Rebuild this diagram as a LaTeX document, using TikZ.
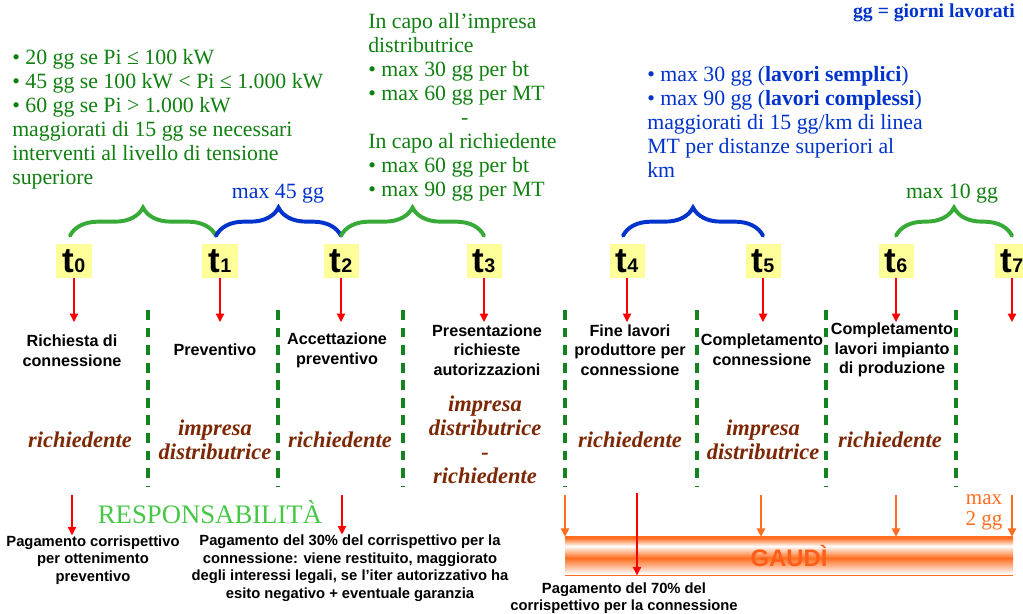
\documentclass[tikz,border=0pt]{standalone}
\usepackage{fontspec}
\setmainfont{Liberation Serif}
\setsansfont{Liberation Sans}
\usetikzlibrary{decorations.pathreplacing,positioning,calc,arrows.meta}
\definecolor{verde}{RGB}{16,128,16}
\definecolor{verdeb}{RGB}{55,170,55}
\definecolor{verdet}{RGB}{20,130,30}
\definecolor{verdechiaro}{RGB}{70,200,70}
\definecolor{blu}{RGB}{0,51,204}
\definecolor{marrone}{RGB}{125,40,5}
\definecolor{giallo}{RGB}{255,255,153}
\definecolor{arancio}{RGB}{255,110,30}

\begin{document}
\begin{tikzpicture}[x=0.025cm, y=-0.025cm,
    testo/.style={inner sep=0pt, align=left, font=\fontsize{15.5}{17}\selectfont},
    tbox/.style={fill=giallo, minimum width=0.875cm, minimum height=0.85cm, inner sep=0pt, font=\sffamily\bfseries},
    evento/.style={inner sep=0pt, align=center, font=\sffamily\bfseries\fontsize{11.5}{14}\selectfont},
    chi/.style={inner sep=0pt, align=center, text=marrone, font=\bfseries\itshape\fontsize{16}{17}\selectfont},
    nota/.style={inner sep=0pt, align=center, font=\sffamily\bfseries\fontsize{10.5}{12.5}\selectfont},
    freccia/.style={red, line width=0.8pt, -{Triangle[width=6pt,length=6pt]}},
    ofreccia/.style={arancio, line width=1.2pt, -{Triangle[width=6pt,length=6pt]}},
    sep/.style={verdet, line width=2.2pt, dash pattern=on 7pt off 5.5pt},
    graffa/.style={line width=2.8pt, line cap=round, decorate, decoration={brace, amplitude=20pt}}]

\clip (0,0) rectangle (1023,613);
\fill[white] (0,0) rectangle (1023,613);

\node[testo, text=blu, font=\bfseries\fontsize{14}{17}\selectfont, anchor=base east] (leg) at (1015,17) {gg = giorni lavorati};

\node[testo, text=verde, anchor=base west] (c01) at (12,184) {%
• 20 gg se Pi ≤ 100 kW\\
• 45 gg se 100 kW < Pi ≤ 1.000 kW\\
• 60 gg se Pi > 1.000 kW\\
maggiorati di 15 gg se necessari\\
interventi al livello di tensione\\
superiore};

\node[testo, text=verde, anchor=base west] (c23) at (368,196) {%
In capo all'impresa\\
distributrice\\
• max 30 gg per bt\\
• max 60 gg per MT\\
\hspace*{66pt}-\\
In capo al richiedente\\
• max 60 gg per bt\\
• max 90 gg per MT};

\node[testo, text=blu, anchor=base west] (c45) at (647,177) {%
• max 30 gg (\textbf{lavori semplici})\\
• max 90 gg (\textbf{lavori complessi})\\
maggiorati di 15 gg/km di linea\\
MT per distanze superiori al\\
km};

\node[testo, text=blu, anchor=base] (m12) at (278,198) {max 45 gg};
\node[testo, text=verde, anchor=base] (m67) at (952,198) {max 10 gg};

\foreach \i/\x in {0/74,1/220,2/341,3/484,4/627,5/763,6/896,7/1012} {
    \node[tbox] (t\i) at (\x,261) {{\fontsize{25}{25}\selectfont t}{\fontsize{14}{14}\selectfont\i}};
    \coordinate (a\i) at (\x,322);
    \draw[freccia] (t\i) -- (a\i);
}

\draw[graffa, verdeb] ($(t0.north)+(-4,-8)$) -- ($(t1.north)+(-4,-8)$);
\draw[graffa, blu] ($(t1.north)+(-4,-8)$) -- ($(t2.north)+(0,-8)$);
\draw[graffa, verdeb] ($(t2.north)+(0,-8)$) -- ($(t3.north)+(0,-8)$);
\draw[graffa, blu] ($(t4.north)+(-4,-8)$) -- ($(t5.north)+(0,-8)$);
\draw[graffa, verdeb] ($(t6.north)+(0,-8)$) -- ($(t7.north)+(0,-8)$);

\foreach \x in {148,278,403,565,697,826,956}
    \draw[sep] (\x,310) -- (\x,486);

\node[evento] (e0) at (72,351) {Richiesta di\\connessione};
\node[evento] (e1) at (215,350) {Preventivo};
\node[evento] (e2) at (337,350) {Accettazione\\preventivo};
\node[evento] (e3) at (487,350) {Presentazione\\richieste\\autorizzazioni};
\node[evento] (e4) at (630,350) {Fine lavori\\produttore per\\connessione};
\node[evento] (e5) at (762,350) {Completamento\\connessione};
\node[evento] (e6) at (892,350) {Completamento\\lavori impianto\\di produzione};

\node[chi] (r0) at (80,440) {richiedente};
\node[chi] (r1) at (215,440) {impresa\\distributrice};
\node[chi] (r2) at (340,440) {richiedente};
\node[chi] (r3) at (485,440) {impresa\\distributrice\\-\\richiedente};
\node[chi] (r4) at (630,440) {richiedente};
\node[chi] (r5) at (763,440) {impresa\\distributrice};
\node[chi] (r6) at (890,440) {richiedente};

\node[inner sep=0pt, text=verdechiaro, font=\fontsize{19}{19}\selectfont] (resp) at (210,512) {RESPONSABILITÀ};

\node[nota] (p0) at (93,560) {Pagamento corrispettivo\\per ottenimento\\preventivo};
\node[nota] (p1) at (350,568) {Pagamento del 30\% del corrispettivo per la\\connessione: viene restituito, maggiorato\\degli interessi legali, se l'iter autorizzativo ha\\esito negativo + eventuale garanzia};
\coordinate (q0) at (72,495);
\coordinate (q1) at (342,495);
\draw[freccia] (q0) -- (q0 |- p0.north);
\draw[freccia] (q1) -- (q1 |- p1.north);

\shade[top color=arancio, bottom color=white] (565,538) rectangle (1013,546);
\shade[top color=white, bottom color=arancio] (565,546) rectangle (1013,558);
\shade[top color=arancio, bottom color=white] (565,558) rectangle (1013,574);
\node[inner sep=0pt, minimum width=11.2cm, minimum height=0.95cm, text=arancio!85!red, font=\sffamily\bfseries\fontsize{17}{17}\selectfont] (gaudi) at (789,556) {GAUDÌ};
\draw[arancio, line width=1.5pt] (gaudi.north west) -- (gaudi.north east);
\draw[arancio, line width=1pt] (gaudi.south west) -- (gaudi.south east);

\foreach \x [count=\k] in {565,761,896,1012} {
    \coordinate (o\k) at (\x,495);
    \draw[ofreccia] (o\k) -- (o\k |- gaudi.north);
}
\node[testo, align=center, text=arancio, font=\fontsize{15}{15}\selectfont] (m2) at (984,512) {max\\2 gg};

\node[nota] (p2) at (624,598) {Pagamento del 70\% del\\corrispettivo per la connessione};
\coordinate (c70) at (637,493);
\draw[freccia] (c70) -- (c70 |- gaudi.south);

\end{tikzpicture}
\end{document}
